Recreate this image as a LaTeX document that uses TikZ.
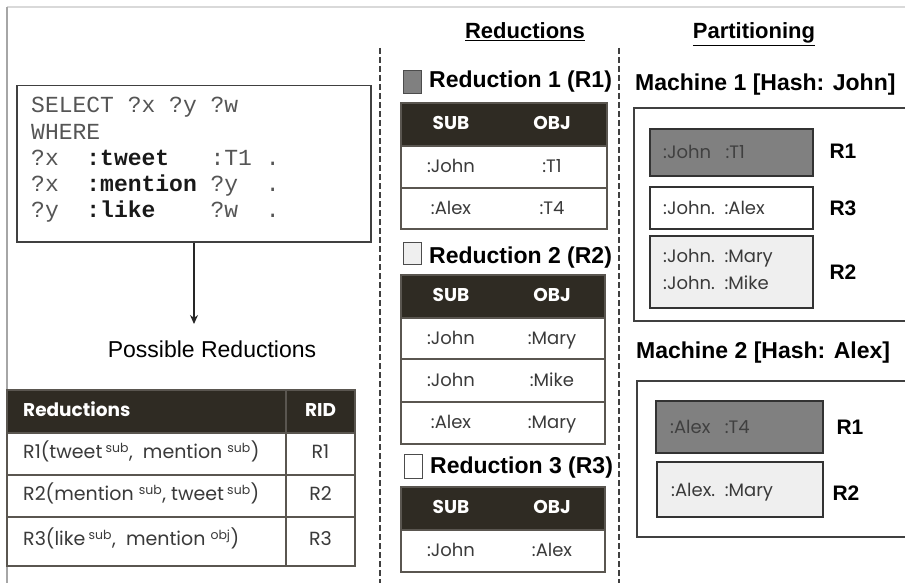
\documentclass[tikz,border=0pt]{standalone}
\usepackage{fontspec}
\setmainfont{Liberation Sans}
\newfontfamily\geo{Poppins}
\newfontfamily\mono{Liberation Mono}
\usetikzlibrary{arrows.meta}
\definecolor{hdr}{HTML}{2F2B23}
\definecolor{tline}{HTML}{5A5650}
\definecolor{txt}{HTML}{3A3A3A}
\definecolor{qtxt}{HTML}{555555}
\definecolor{dgray}{HTML}{808080}
\definecolor{lgray}{HTML}{EFEFEF}
\begin{document}
\begin{tikzpicture}[x=1pt,y=-1pt,
  hdrbox/.style={fill=hdr,draw=tline,line width=1.2pt},
  cellbox/.style={fill=white,draw=tline,line width=1.2pt},
  ttext/.style={font=\geo\fontsize{18}{20}\selectfont,text=txt,inner sep=0,text height=12.5pt,text depth=3.5pt},
  ltext/.style={font=\geo\fontsize{19}{20}\selectfont,text=txt,inner sep=0,text height=13pt,text depth=4pt},
  thead/.style={font=\geo\bfseries\fontsize{18.5}{20}\selectfont,text=white,inner sep=0,text height=12.5pt,text depth=3.5pt},
  qline/.style={font=\mono\fontsize{23}{26}\selectfont,text=qtxt,inner sep=0,anchor=base west},
  rtitle/.style={font=\bfseries\fontsize{23}{26}\selectfont,inner sep=0,anchor=base west},
  rlab/.style={font=\bfseries\fontsize{21}{24}\selectfont,inner sep=0},
  ptext/.style={font=\geo\fontsize{18}{20}\selectfont,text=txt,inner sep=0,anchor=base west},
  sectitle/.style={font=\bfseries\fontsize{22}{24}\selectfont,inner sep=0,anchor=base},
  mbox/.style={draw=black!75,line width=1.2pt},
  ibox/.style={draw=black!80,line width=1.2pt},
  divider/.style={draw=black!75,line width=1.3pt,dash pattern=on 6pt off 3pt},
  frame/.style={line width=1.2pt}
]
\useasboundingbox (0,0) rectangle (905,583);
% frame lines
\draw[frame,draw=black!15] (7,7) -- (905,7);
\draw[frame,draw=black!35] (7,7) -- (7,583);

% query box
\node[draw=black!75,line width=1.5pt,minimum width=354pt,minimum height=156pt,inner sep=0,anchor=north west] (query) at (16,85) {};
\node[qline] (q1) at (31,113) {SELECT ?x ?y ?w};
\node[qline] (q2) at (31,139.5) {WHERE};
\node[qline] (q3) at (31,166) {?x\ \ \textcolor{black!90}{\bfseries:tweet}\ \ \ :T1 .};
\node[qline] (q4) at (31,191.5) {?x\ \ \textcolor{black!90}{\bfseries:mention}\ ?y\ \ .};
\node[qline] (q5) at (31,217) {?y\ \ \textcolor{black!90}{\bfseries:like}\ \ \ \ ?w\ \ .};
\node[font=\fontsize{23}{26}\selectfont,inner sep=0,anchor=base] (pr) at (212,357) {Possible Reductions};
\coordinate (atip) at (194,324);
\draw[line width=1.3pt,draw=black!85,-{Stealth[length=9pt,width=8pt]}] (query.south -| atip) -- (atip);

% left table
\draw[hdrbox] (7,390) rectangle (355,433);
\draw[cellbox] (7,433) rectangle (355,475);
\draw[cellbox] (7,475) rectangle (355,517);
\draw[cellbox] (7,517) rectangle (355,566);
\draw[draw=tline,line width=1.2pt] (286,390) -- (286,566);
\node[thead,anchor=west] (lh1) at (23,412) {Reductions};
\node[thead] (lh2) at (320.5,412) {RID};
\newcommand{\sps}[1]{\textsuperscript{\fontsize{12.5}{12}\selectfont #1}}
\node[ltext,anchor=west] (lr1) at (23,454) {R1(tweet\,\sps{sub}, \ mention \sps{sub})};
\node[ltext,anchor=west] (lr2) at (23,496) {R2(mention \sps{sub}, tweet\,\sps{sub})};
\node[ltext,anchor=west] (lr3) at (23,541) {R3(like\,\sps{sub}, \ mention \sps{obj})};
\node[ltext] (li1) at (320.5,454) {R1};
\node[ltext] (li2) at (320.5,496) {R2};
\node[ltext] (li3) at (320.5,541) {R3};

% dividers
\coordinate (d1t) at (380,48); \coordinate (d1b) at (380,583);
\coordinate (d2t) at (619,48); \coordinate (d2b) at (619,583);
\draw[divider] (d1t) -- (d1b);
\draw[divider] (d2t) -- (d2b);

% section titles
\node[sectitle] (tred) at (525,39) {\underline{Reductions}};
\node[sectitle] (tpart) at (754,39) {\underline{Partitioning}};

% Reduction 1
\draw[fill=dgray,draw=black!70,line width=1pt] (403,71) rectangle (421,94);
\node[rtitle] (r1t) at (429,88) {Reduction 1 (R1)};
\draw[hdrbox] (401,103) rectangle (607,146);
\draw[cellbox] (401,146) rectangle (607,188);
\draw[cellbox] (401,188) rectangle (607,229);
\node[thead] (t1h1) at (451,125) {SUB};
\node[thead] (t1h2) at (552,125) {OBJ};
\node[ttext] (t1a) at (451,168) {:John};
\node[ttext] (t1b) at (552,168) {:T1};
\node[ttext] (t1c) at (451,210) {:Alex};
\node[ttext] (t1d) at (552,210) {:T4};

% Reduction 2
\draw[fill=lgray,draw=black!70,line width=1pt] (403,242) rectangle (421,264);
\node[rtitle] (r2t) at (429,263) {Reduction 2 (R2)};
\draw[hdrbox] (401,275) rectangle (605,318);
\draw[cellbox] (401,318) rectangle (605,359);
\draw[cellbox] (401,359) rectangle (605,402);
\draw[cellbox] (401,402) rectangle (605,444);
\node[thead] (t2h1) at (451,297) {SUB};
\node[thead] (t2h2) at (552,297) {OBJ};
\node[ttext] (t2a) at (451,340) {:John};
\node[ttext] (t2b) at (552,340) {:Mary};
\node[ttext] (t2c) at (451,382) {:John};
\node[ttext] (t2d) at (552,382) {:Mike};
\node[ttext] (t2e) at (451,424) {:Alex};
\node[ttext] (t2f) at (552,424) {:Mary};

% Reduction 3
\draw[fill=white,draw=black!70,line width=1pt] (404,454) rectangle (422,478);
\node[rtitle] (r3t) at (430,473) {Reduction 3 (R3)};
\draw[hdrbox] (401,487) rectangle (605,530);
\draw[cellbox] (401,530) rectangle (605,572);
\node[thead] (t3h1) at (451,509) {SUB};
\node[thead] (t3h2) at (552,509) {OBJ};
\node[ttext] (t3a) at (451,552) {:John};
\node[ttext] (t3b) at (552,552) {:Alex};

% Machine 1
\node[rtitle] (m1t) at (635,91) {Machine 1 [Hash: John]};
\draw[mbox] (907,108) -- (634,108) -- (634,321) -- (907,321);
\draw[ibox,fill=dgray] (650,129) rectangle (813,176);
\node[ptext,text=black!75] (m1a) at (663,159) {:John\ \ \ :T1};
\node[rlab] (m1r1) at (843,151) {R1};
\draw[ibox,fill=white] (650,187) rectangle (813,229);
\node[ptext] (m1b) at (663,214) {:John.\ \ :Alex};
\node[rlab] (m1r3) at (843,208) {R3};
\draw[ibox,fill=lgray] (650,236) rectangle (813,308);
\node[ptext] (m1c) at (663,262) {:John.\ \ :Mary};
\node[ptext] (m1d) at (663,289) {:John.\ \ :Mike};
\node[rlab] (m1r2) at (843,272) {R2};

% Machine 2
\node[rtitle] (m2t) at (636,358) {Machine 2 [Hash: Alex]};
\draw[mbox] (907,381) -- (637,381) -- (637,537) -- (907,537);
\draw[ibox,fill=dgray] (656,401) rectangle (823,453);
\node[ptext,text=black!75] (m2a) at (670,433) {:Alex\ \ \ :T4};
\node[rlab] (m2r1) at (850,427) {R1};
\draw[ibox,fill=lgray] (657,462) rectangle (823,517);
\node[ptext] (m2b) at (671,496) {:Alex.\ \ :Mary};
\node[rlab] (m2r2) at (846,493) {R2};
\end{tikzpicture}
\end{document}
